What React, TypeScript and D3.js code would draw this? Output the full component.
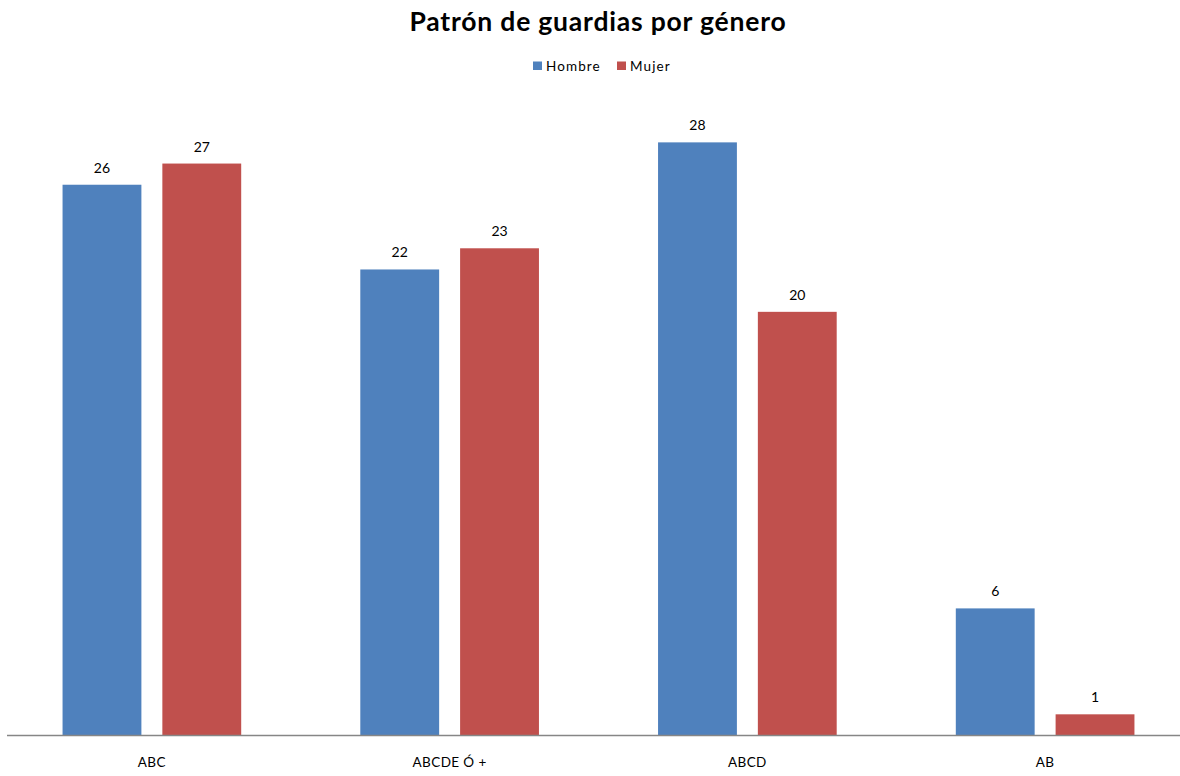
import React from "react";
import * as d3 from "d3";

const categories = ["ABC", "ABCDE Ó +", "ABCD", "AB"];
const seriesNames = ["Hombre", "Mujer"];
const hombre = [26, 22, 28, 6];
const mujer = [27, 23, 20, 1];
const colors = ["#4F81BD", "#C0504D"];

const W = 1180;
const H = 776;
const FONT = "Lato, 'Open Sans', sans-serif";

export default function App() {
  React.useEffect(() => {
    document.body.style.margin = "0";
  }, []);
  const baseline = 735.5;
  const y = d3.scaleLinear().domain([0, 30]).range([baseline, 100]);
  const x0 = d3.scaleBand<string>().domain(categories).range([3, 1194]).paddingInner(0.4).paddingOuter(0.2);
  const x1 = d3.scaleBand<string>().domain(seriesNames).range([0, x0.bandwidth()]).paddingInner(0.21);
  const values = [hombre, mujer];

  return (
    <svg width={W} height={H} style={{ display: "block", background: "#fff" }}>
      <text x={598} y={31} textAnchor="middle" fontFamily={FONT} fontWeight={700} fontSize={26.5} letterSpacing={0.8} fill="#000">
        Patrón de guardias por género
      </text>
      {seriesNames.map((s, i) => {
        const lx = i === 0 ? 533 : 617;
        return (
          <g key={s}>
            <rect x={lx} y={61.5} width={9} height={8.5} fill={colors[i]} />
            <text x={lx + 13} y={71} fontFamily={FONT} fontSize={13.5} letterSpacing={1.1} fill="#000">{s}</text>
          </g>
        );
      })}
      {categories.map((c, ci) => (
        <g key={c} transform={`translate(${x0(c)},0)`}>
          {seriesNames.map((s, si) => {
            const v = values[si][ci];
            const bx = x1(s)!;
            const bw = x1.bandwidth();
            return (
              <g key={s}>
                <rect x={bx} y={y(v)} width={bw} height={baseline - y(v)} fill={colors[si]} />
                <text x={bx + bw / 2} y={y(v) - 12} textAnchor="middle" fontFamily={FONT} fontSize={14} fill="#000">
                  {v}
                </text>
              </g>
            );
          })}
          <text x={x0.bandwidth() / 2} y={767} textAnchor="middle" fontFamily={FONT} fontSize={13.5} letterSpacing={0.4} fill="#000">
            {c}
          </text>
        </g>
      ))}
      <line x1={7} x2={1180} y1={baseline} y2={baseline} stroke="#868686" strokeWidth={1.5} />
    </svg>
  );
}
